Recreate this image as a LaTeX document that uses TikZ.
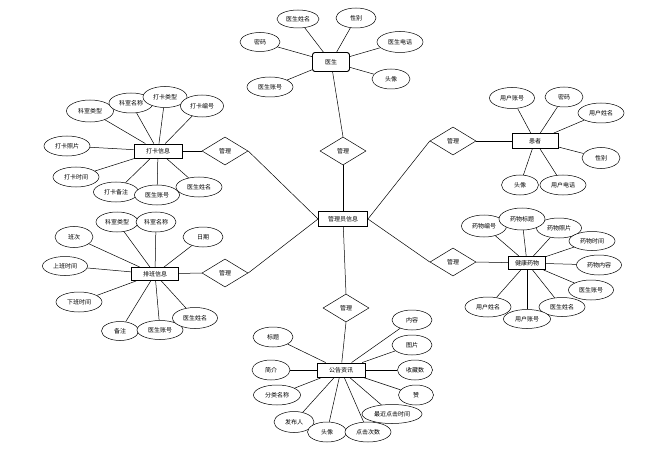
\documentclass[tikz,border=0pt]{standalone}
\usepackage{fontspec}
\setmainfont{Noto Sans CJK SC}
\usetikzlibrary{shapes.geometric,backgrounds}
\begin{document}
\begin{tikzpicture}[x=1pt,y=-1pt,
  every node/.style={font=\fontsize{6}{7}\selectfont},
  attr/.style={draw,fill=white,ellipse,line width=0.5pt,inner sep=0pt,minimum width=44pt,minimum height=20pt},
  ent/.style={draw,fill=white,rectangle,line width=0.9pt,inner sep=0pt,minimum width=47pt,minimum height=14pt},
  rel/.style={draw,fill=white,diamond,aspect=1.65,line width=0.5pt,inner sep=0pt,minimum width=46pt,minimum height=28pt},
  conn/.style={line width=0.5pt}]
\useasboundingbox (0,0) rectangle (657,452);
% central
\node[ent,minimum width=49pt,minimum height=15pt] (admin) at (343,219) {管理员信息};
% relations
\node[rel] (r1) at (343,151) {管理};
\node[rel] (r2) at (225,151) {管理};
\node[rel] (r3) at (225,273) {管理};
\node[rel] (r4) at (453,141) {管理};
\node[rel] (r5) at (453,262) {管理};
\node[rel] (r6) at (346,308) {管理};
% doctor
\node[ent,rounded corners=2.5pt,minimum width=37pt,minimum height=19pt] (doc) at (331,62) {医生};
\node[attr,minimum width=42pt,minimum height=18pt] (d1) at (298,19) {医生姓名};
\node[attr,minimum width=40pt] (d2) at (356,18) {性别};
\node[attr,minimum width=40pt,minimum height=19pt] (d3) at (260,42) {密码};
\node[attr,minimum width=46pt,minimum height=21pt] (d4) at (400,42) {医生电话};
\node[attr,minimum width=38pt] (d5) at (391,79) {头像};
\node[attr,minimum width=46pt] (d6) at (270,87) {医生账号};
% clock-in
\node[ent,minimum width=48pt] (clk) at (158,151) {打卡信息};
\node[attr,minimum width=47pt,minimum height=22pt] (c1) at (90,111) {科室类型};
\node[attr] (c2) at (131,103) {科室名称};
\node[attr,minimum height=21pt] (c3) at (165,97) {打卡类型};
\node[attr,minimum width=43pt,minimum height=22pt] (c4) at (202,106) {打卡编号};
\node[attr,minimum width=46pt] (c5) at (67,146) {打卡照片};
\node[attr,minimum width=46pt] (c6) at (76,177) {打卡时间};
\node[attr,minimum width=45pt] (c7) at (116,192) {打卡备注};
\node[attr,minimum width=45pt] (c8) at (157,195) {医生账号};
\node[attr,minimum width=46pt] (c9) at (199,187) {医生姓名};
% schedule
\node[ent,minimum width=47pt,minimum height=13pt] (sch) at (155,274) {排班信息};
\node[attr,minimum width=42pt] (s1) at (117,222) {科室类型};
\node[attr,minimum width=40pt] (s2) at (156,222) {科室名称};
\node[attr,minimum width=40pt] (s3) at (203,237) {日期};
\node[attr,minimum width=38pt,minimum height=21pt] (s4) at (74,237) {班次};
\node[attr,minimum width=45pt,minimum height=19pt] (s5) at (65,266) {上班时间};
\node[attr,minimum width=46pt] (s6) at (79,302) {下班时间};
\node[attr,minimum width=37pt,minimum height=19pt] (s7) at (120,331) {备注};
\node[attr,minimum width=46pt,minimum height=19pt] (s8) at (160,330) {医生账号};
\node[attr,minimum width=45pt,minimum height=21pt] (s9) at (195,318) {医生姓名};
% patient
\node[ent,minimum width=46pt,minimum height=15pt] (pat) at (535,141) {患者};
\node[attr,minimum width=45pt,minimum height=21pt] (p1) at (512,98) {用户账号};
\node[attr,minimum width=38pt] (p2) at (564,97) {密码};
\node[attr,minimum width=46pt] (p3) at (601,113) {用户姓名};
\node[attr,minimum width=38pt,minimum height=21pt] (p4) at (601,158) {性别};
\node[attr,minimum width=37pt] (p5) at (520,185) {头像};
\node[attr,minimum width=46pt] (p6) at (563,185) {用户电话};
% health items
\node[ent,minimum width=37pt,minimum height=13pt] (hlt) at (527,263) {健康药物};
\node[attr,minimum width=45pt,minimum height=22pt] (h1) at (484,226) {药物编号};
\node[attr,minimum width=45pt] (h3) at (559,228) {药物照片};
\node[attr,minimum width=46pt,minimum height=22pt] (h2) at (522,219) {药物标题};
\node[attr,minimum width=46pt,minimum height=19pt] (h4) at (592,241) {药物时间};
\node[attr,minimum width=45pt] (h5) at (599,265) {药物内容};
\node[attr,minimum width=45pt] (h6) at (591,290) {医生账号};
\node[attr,minimum width=46pt,minimum height=19pt] (h7) at (562,307) {医生姓名};
\node[attr,minimum width=46pt] (h9) at (488,307) {用户姓名};
\node[attr,minimum width=47pt,minimum height=19pt] (h8) at (527,319) {用户账号};
% notices
\node[ent,minimum width=48pt,minimum height=14pt] (ntc) at (341,370) {公告资讯};
\node[attr,minimum width=40pt] (n1) at (273,337) {标题};
\node[attr,minimum width=38pt] (n2) at (271,370) {简介};
\node[attr,minimum width=47pt] (n3) at (277,395) {分类名称};
\node[attr,minimum width=40pt,minimum height=21pt] (n4) at (294,422) {发布人};
\node[attr,minimum width=39pt] (n5) at (327,432) {头像};
\node[attr,minimum width=60pt,minimum height=19pt] (n7) at (392,414) {最近点击时间};
\node[attr,minimum width=46pt] (n6) at (368,432) {点击次数};
\node[attr,minimum width=35pt] (n8) at (416,395) {赞};
\node[attr,minimum width=35pt] (n9) at (415,370) {收藏数};
\node[attr,minimum width=40pt] (n10) at (412,345) {图片};
\node[attr,minimum width=40pt] (n11) at (412,320) {内容};
\begin{scope}[on background layer]
\foreach \a in {d1,d2,d3,d4,d5,d6} \draw[conn] (\a) -- (doc);
\foreach \a in {c1,c2,c3,c4,c5,c6,c7,c8,c9} \draw[conn] (\a) -- (clk);
\foreach \a in {s1,s2,s3,s4,s5,s6,s7,s8,s9} \draw[conn] (\a) -- (sch);
\foreach \a in {p1,p2,p3,p4,p5,p6} \draw[conn] (\a) -- (pat);
\foreach \a in {h1,h2,h3,h4,h5,h6,h7,h8,h9} \draw[conn] (\a) -- (hlt);
\foreach \a in {n1,n2,n3,n4,n5,n6,n7,n8,n9,n10,n11} \draw[conn] (\a) -- (ntc);
% relation links
\draw[conn] (doc) -- (r1.north);
\draw[conn] (r1.south) -- (admin);
\draw[conn] (clk) -- (r2.west);
\draw[conn] (r2.east) -- (admin.west);
\draw[conn] (sch) -- (r3.west);
\draw[conn] (r3.east) -- (admin.west);
\draw[conn] (pat) -- (r4.east);
\draw[conn] (r4.west) -- (admin.east);
\draw[conn] (hlt) -- (r5.east);
\draw[conn] (r5.west) -- (admin.east);
\draw[conn] (admin) -- (r6.north);
\draw[conn] (r6.south) -- (ntc);
\end{scope}
\end{tikzpicture}
\end{document}
